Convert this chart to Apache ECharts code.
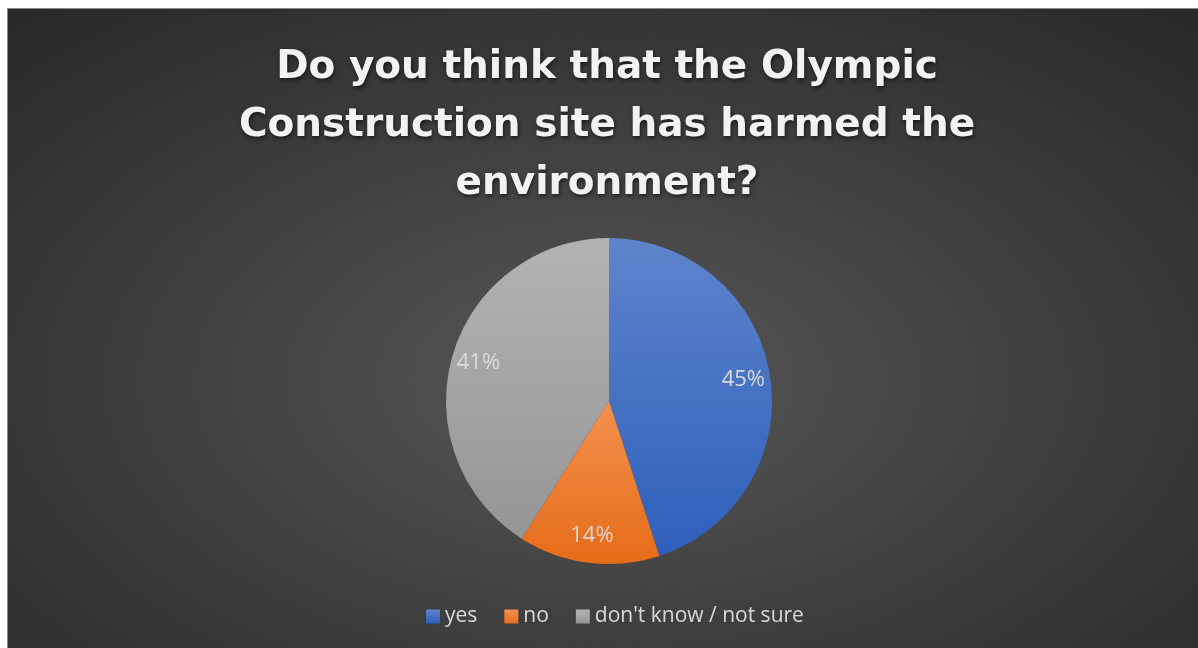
<!DOCTYPE html>
<html>
<head>
<meta charset="utf-8">
<script src="https://cdn.jsdelivr.net/npm/echarts@6/dist/echarts.min.js"></script>
<style>
  html, body { margin: 0; padding: 0; background: #ffffff; width: 1198px; height: 648px; overflow: hidden; }
  #frame { position: absolute; left: 7px; top: 8px; width: 1191px; height: 640px; overflow: hidden;
    border-top: 1px solid #8a8a8a; border-left: 1px solid #8a8a8a;
    background: radial-gradient(ellipse 75% 80% at 50% 58%, #575757 0%, #3c3c3c 55%, #272727 100%); }
  #chart { position: absolute; left: 0; top: 0; width: 1198px; height: 639px; }
</style>
</head>
<body>
<div id="frame"><div id="chart"></div></div>
<script>
const titleText = "Do you think that the Olympic\nConstruction site has harmed the\nenvironment?";
const categories = ["yes", "no", "don't know / not sure"];
const values = [45, 14, 41];
const topColors = ["#5e84cc", "#f3904f", "#b3b3b3"];
const bottomColors = ["#2e5fba", "#e66c18", "#959595"];

const chart = echarts.init(document.getElementById('chart'), null, { renderer: 'canvas' });

const sliceData = categories.map((c, i) => ({
  name: c,
  value: values[i],
  itemStyle: {
    color: new echarts.graphic.LinearGradient(0, 0, 0, 1, [
      { offset: 0, color: topColors[i] },
      { offset: 1, color: bottomColors[i] }
    ])
  }
}));
const labelData = categories.map((c, i) => ({ name: c, value: values[i] }));

chart.setOption({
  backgroundColor: 'transparent',
  animation: false,
  title: {
    text: titleText,
    left: 'center',
    top: 25,
    textStyle: {
      fontFamily: 'DejaVu Sans',
      fontWeight: 'bold',
      fontSize: 39,
      lineHeight: 58,
      color: '#f2f2f2',
      textShadowColor: 'rgba(0,0,0,0.6)',
      textShadowBlur: 4,
      textShadowOffsetX: 1,
      textShadowOffsetY: 2
    }
  },
  legend: {
    data: categories,
    bottom: 16,
    left: 413,
    icon: 'rect',
    itemWidth: 14,
    itemHeight: 14,
    itemGap: 27,
    textStyle: { color: '#d9d9d9', fontFamily: 'Open Sans', fontSize: 21 }
  },
  color: bottomColors,
  series: [
    {
      type: 'pie',
      center: [601, 392],
      radius: [0, 163],
      startAngle: 90,
      clockwise: true,
      data: sliceData,
      label: { show: false },
      labelLine: { show: false },
      itemStyle: { borderWidth: 0 },
      emphasis: { disabled: true }
    },
    {
      type: 'pie',
      center: [601, 392],
      radius: [104, 162],
      startAngle: 90,
      clockwise: true,
      silent: true,
      data: labelData,
      itemStyle: { color: 'rgba(0,0,0,0)' },
      label: {
        show: true,
        position: 'inside',
        formatter: '{c}%',
        color: '#d9d9d9',
        fontFamily: 'Open Sans',
        fontSize: 22
      },
      labelLine: { show: false },
      emphasis: { disabled: true },
      legendHoverLink: false
    }
  ]
});
</script>
</body>
</html>
